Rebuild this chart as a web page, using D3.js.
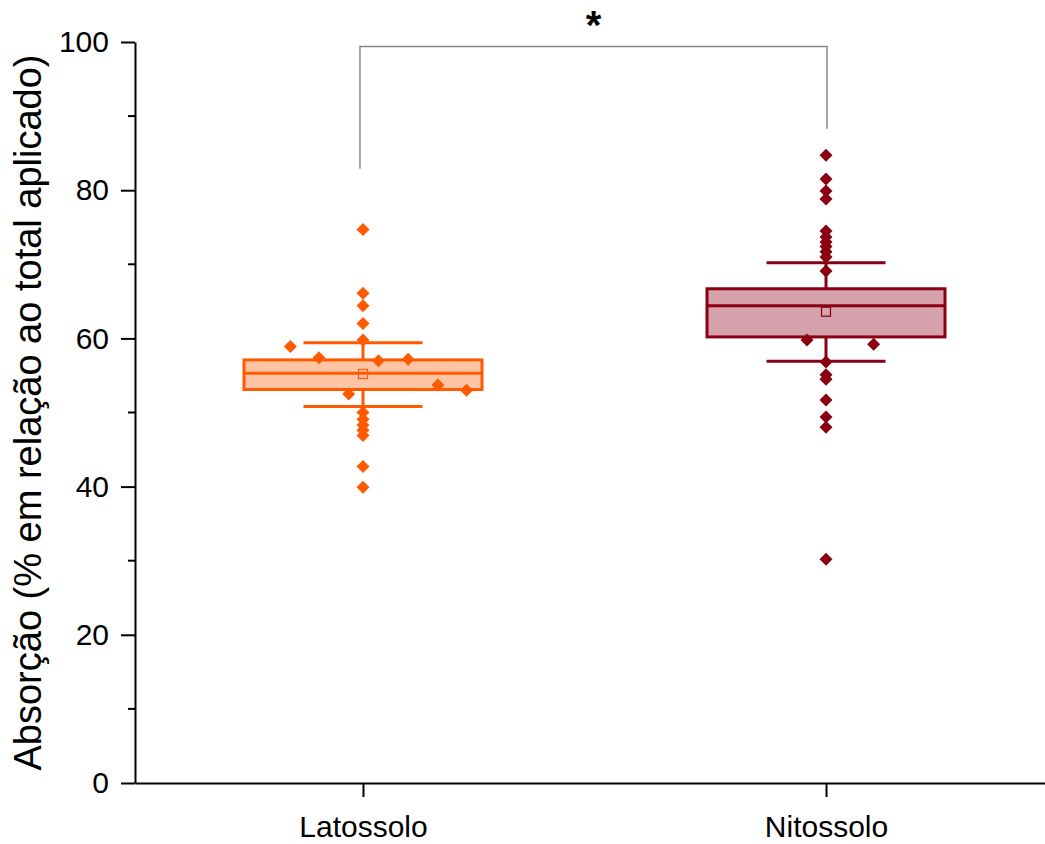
<!DOCTYPE html>
<html>
<head>
<meta charset="utf-8">
<script src="https://cdn.jsdelivr.net/npm/d3@7"></script>
<style>
  body { margin: 0; background: #fff; }
  svg { display: block; font-family: "Liberation Sans", Arial, sans-serif; }
</style>
</head>
<body>
<svg width="1045" height="844"></svg>
<script>
// категории и значения
const categories = ["Latossolo", "Nitossolo"];

const latossoloValues = [74.7, 66.1, 64.4, 62.0, 59.8, 58.9, 57.4, 57.0, 57.2, 53.7,
                         53.0, 52.5, 50.0, 49.1, 48.3, 47.6, 46.9, 42.7, 39.9];
const latossoloJitter = [0, 0, 0, 0, 0, -0.61, -0.37, 0.13, 0.38, 0.63,
                         0.87, -0.12, 0, 0, 0, 0, 0, 0, 0];

const nitossoloValues = [84.7, 81.5, 79.9, 78.8, 74.5, 73.7, 73.0, 72.4, 71.7, 71.0,
                         69.1, 59.8, 59.2, 56.8, 55.1, 54.5, 51.7, 49.4, 48.0, 30.2];
const nitossoloJitter = [0, 0, 0, 0, 0, 0, 0, 0, 0, 0,
                         0, -0.16, 0.40, 0, 0, 0, 0, 0, 0, 0];

// статистика боксов
const boxQ1 = [53.1, 60.2];
const boxMedian = [55.3, 64.4];
const boxQ3 = [57.1, 66.7];
const boxMean = [55.2, 63.6];
const whiskerLow = [50.8, 56.9];
const whiskerHigh = [59.4, 70.2];

const yTicks = [0, 20, 40, 60, 80, 100];
const yMinorTicks = [10, 30, 50, 70, 90];

// скобка значимости
const bracketTop = 99.4;
const bracketLeftEnd = 82.9;
const bracketRightEnd = 88.3;
const signifLabel = "*";

const yTitle = "Absorção (% em relação ao total aplicado)";

const strokeColors = ["#FF5A00", "#8A0012"];
const fillColors = ["#FFC4A3", "#D5A2AB"];

const svg = d3.select("svg");

const attr_area = {
  left: 135,
  right: 1054,
  top: 42,
  bottom: 783
};

const scX = d3.scalePoint()
  .domain(categories)
  .range([attr_area.left, attr_area.right])
  .padding(0.4924);

const scY = d3.scaleLinear()
  .domain([0, 100])
  .range([attr_area.bottom, attr_area.top]);

const boxW = 238;

// оси
const gx = svg.append("g")
  .attr("transform", `translate(0, ${attr_area.bottom})`)
  .call(d3.axisBottom(scX).tickSize(14).tickSizeOuter(0).tickPadding(19));
gx.selectAll("text").style("font-size", "30px").attr("fill", "#000");

const gy = svg.append("g")
  .attr("transform", `translate(${attr_area.left}, 0)`)
  .call(d3.axisLeft(scY).tickValues(yTicks).tickSize(14).tickSizeOuter(0).tickPadding(12));
gy.selectAll("text").style("font-size", "30px").attr("fill", "#000");

gy.selectAll(".minor")
  .data(yMinorTicks)
  .join("line")
  .attr("class", "minor")
  .attr("x1", 0)
  .attr("x2", -7)
  .attr("y1", d => scY(d))
  .attr("y2", d => scY(d))
  .attr("stroke", "#000");

svg.selectAll(".domain, .tick line, .minor")
  .attr("stroke", "#000")
  .attr("stroke-width", 2);

svg.append("text")
  .attr("transform", `translate(41, ${(attr_area.top + attr_area.bottom) / 2}) rotate(-90)`)
  .attr("text-anchor", "middle")
  .style("font-size", "38px")
  .attr("fill", "#000")
  .text(yTitle);

// боксы
const series = [
  { values: latossoloValues, jitter: latossoloJitter },
  { values: nitossoloValues, jitter: nitossoloJitter }
];

categories.forEach((cat, i) => {
  const cx = scX(cat);
  const col = strokeColors[i];
  const g = svg.append("g");

  // усы
  g.append("line")
    .attr("x1", cx).attr("x2", cx)
    .attr("y1", scY(whiskerHigh[i])).attr("y2", scY(boxQ3[i]))
    .attr("stroke", col).attr("stroke-width", 3);
  g.append("line")
    .attr("x1", cx).attr("x2", cx)
    .attr("y1", scY(boxQ1[i])).attr("y2", scY(whiskerLow[i]))
    .attr("stroke", col).attr("stroke-width", 3);
  [whiskerHigh[i], whiskerLow[i]].forEach(v => {
    g.append("line")
      .attr("x1", cx - boxW / 4).attr("x2", cx + boxW / 4)
      .attr("y1", scY(v)).attr("y2", scY(v))
      .attr("stroke", col).attr("stroke-width", 3);
  });

  g.append("rect")
    .attr("x", cx - boxW / 2)
    .attr("y", scY(boxQ3[i]))
    .attr("width", boxW)
    .attr("height", scY(boxQ1[i]) - scY(boxQ3[i]))
    .attr("fill", fillColors[i])
    .attr("stroke", col)
    .attr("stroke-width", 3);

  g.append("line")
    .attr("x1", cx - boxW / 2).attr("x2", cx + boxW / 2)
    .attr("y1", scY(boxMedian[i])).attr("y2", scY(boxMedian[i]))
    .attr("stroke", col).attr("stroke-width", 3);

  g.append("rect")
    .attr("x", cx - 4.5)
    .attr("y", scY(boxMean[i]) - 4.5)
    .attr("width", 9).attr("height", 9)
    .attr("fill", "none")
    .attr("stroke", col)
    .attr("stroke-width", 1.2);

  // точки
  g.selectAll(".pt")
    .data(series[i].values)
    .join("path")
    .attr("class", "pt")
    .attr("d", "M0,-6.5L6.5,0L0,6.5L-6.5,0Z")
    .attr("transform", (d, k) => `translate(${cx + series[i].jitter[k] * boxW / 2}, ${scY(d)})`)
    .attr("fill", col);
});

// скобка значимости
const xa = scX(categories[0]) - 3;
const xb = scX(categories[1]) + 1;
svg.append("path")
  .attr("d", `M${xa},${scY(bracketLeftEnd)}V${scY(bracketTop)}H${xb}V${scY(bracketRightEnd)}`)
  .attr("fill", "none")
  .attr("stroke", "#888")
  .attr("stroke-width", 1.5);

svg.append("text")
  .attr("x", (xa + xb) / 2)
  .attr("y", 39)
  .attr("text-anchor", "middle")
  .style("font-size", "40px")
  .style("font-weight", "bold")
  .attr("fill", "#000")
  .text(signifLabel);
</script>
</body>
</html>
